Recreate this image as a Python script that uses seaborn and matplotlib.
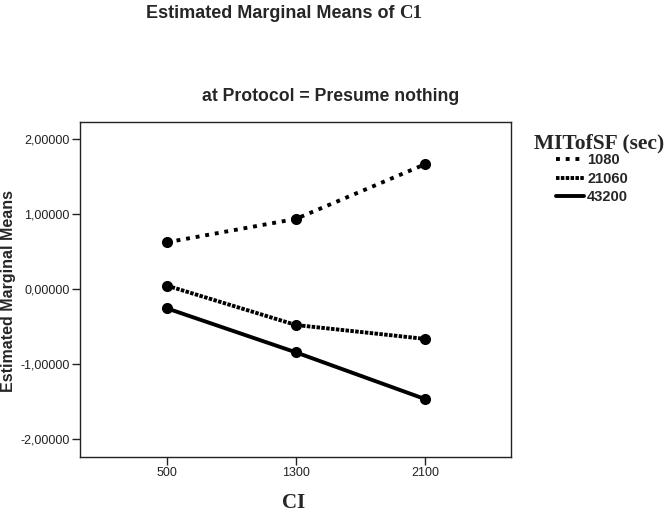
import matplotlib
matplotlib.use("Agg")
import matplotlib.pyplot as plt
from matplotlib.lines import Line2D
from matplotlib.ticker import FuncFormatter
import seaborn as sns
import pandas as pd

ci_levels = ["500", "1300", "2100"]
mit_levels = ["1080", "21060", "43200"]
emm_1080 = [0.623, 0.935, 1.663]
emm_21060 = [0.045, -0.48, -0.665]
emm_43200 = [-0.258, -0.845, -1.467]
y_ticks = [-2, -1, 0, 1, 2]

rows = []
for lvl, vals in zip(mit_levels, [emm_1080, emm_21060, emm_43200]):
    for c, v in zip(ci_levels, vals):
        rows.append({"CI": c, "MITofSF": lvl, "EMM": v})
df = pd.DataFrame(rows)

sns.set_theme(style="white")
plt.rcParams["font.family"] = ["Liberation Sans", "DejaVu Sans"]

fig = plt.figure(figsize=(6.67, 5.12), dpi=100)
ax = fig.add_axes([80/667, 1-457/512, 431/667, 335/512])

dash_map = {"1080": (1, 1.5), "21060": (0.9, 0.35), "43200": ""}
sns.lineplot(data=df, x="CI", y="EMM", hue="MITofSF", style="MITofSF",
             hue_order=mit_levels, style_order=mit_levels,
             palette=["black"] * 3, dashes=dash_map,
             markers={"1080": "o", "21060": "o", "43200": "o"},
             markersize=8, linewidth=2.8, markeredgewidth=0,
             legend=False, ax=ax, sort=False)

ax.set_xlim(-0.674, 2.667)
ax.set_ylim(-2.24, 2.227)
ax.set_yticks(y_ticks)
ax.yaxis.set_major_formatter(FuncFormatter(lambda v, p: f"{v:.5f}".replace(".", ",")))
for s in ax.spines.values():
    s.set_visible(True)
    s.set_color("#222222")
    s.set_linewidth(1.0)
ax.tick_params(axis="both", which="major", direction="out", length=6, width=1,
               color="#222222", labelsize=9, labelcolor="#222222",
               left=True, bottom=True, pad=1.5)
ax.set_xlabel("")
ax.set_ylabel("")

fig.text(9/667, 1-291/512, "Estimated Marginal Means", rotation=90,
         ha="center", va="center", fontsize=11.5, fontweight="bold")
fig.text(294/667, 1-508/512, "CI", ha="center", va="baseline",
         fontsize=15, fontweight="bold", family=["Liberation Serif"])

# Titles
t1 = fig.text(146/667, 1-18/512, "Estimated Marginal Means of ", ha="left", va="baseline",
              fontsize=13, fontweight="bold")
fig.canvas.draw()
bb = t1.get_window_extent()
fig.text(bb.x1/fig.bbox.width, 1-18/512, "C1", ha="left", va="baseline",
         fontsize=13.5, fontweight="bold", family=["Liberation Serif"])
fig.text(331/667, 1-101/512, "at Protocol = Presume nothing", ha="center", va="baseline",
         fontsize=12.7, fontweight="bold")

# Legend
fig.text(599/667, 1-148/512, "MITofSF (sec)", ha="center", va="baseline",
         fontsize=15.5, fontweight="bold", family=["Liberation Serif"])
handles = [Line2D([], [], color="black", linewidth=2.8, linestyle=(0, dash_map[m]) if dash_map[m] else "-")
           for m in mit_levels]
leg = fig.legend(handles, mit_levels, loc="upper left", bbox_to_anchor=(555/667, 1-152/512),
                 frameon=False, handlelength=1.9, handletextpad=0.2, labelspacing=0.3,
                 prop={"size": 10.5, "weight": "bold"}, borderaxespad=0, borderpad=0.1)

fig.savefig("out.png", dpi=100, facecolor="white")
